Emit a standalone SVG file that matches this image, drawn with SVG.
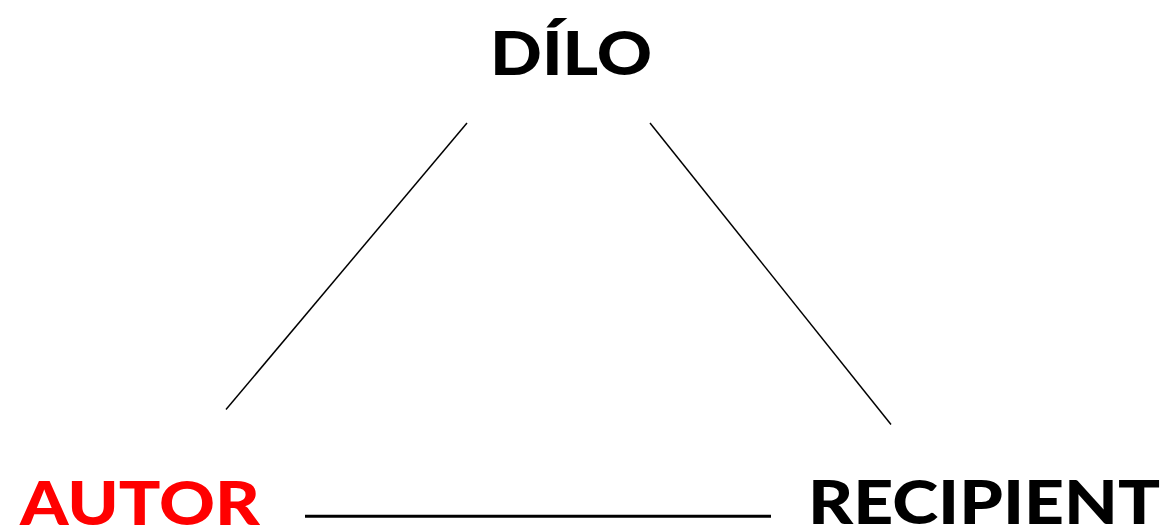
<svg xmlns="http://www.w3.org/2000/svg" width="1171" height="530" viewBox="0 0 1171 530">
<style>
.lbl{font-family:Lato,"Open Sans","Liberation Sans",sans-serif;font-weight:900;font-size:61px}
.blk{fill:#000}
.red{fill:#ff0000}
.ln{stroke:#000;fill:none}
</style>
<rect width="1171" height="530" fill="#fff"/>
<g id="connectors">
<line class="ln" x1="467" y1="123" x2="226" y2="409.5" stroke-width="1.5"/>
<line class="ln" x1="650" y1="123" x2="891" y2="424.5" stroke-width="1.5"/>
<line class="ln" x1="305" y1="516.2" x2="771" y2="516.2" stroke-width="3"/>
</g>
<g id="node-dilo"><text class="lbl blk" x="490" y="75" textLength="162" lengthAdjust="spacingAndGlyphs">DÍLO</text></g>
<g id="node-autor"><text class="lbl red" x="20" y="525" textLength="240" lengthAdjust="spacingAndGlyphs">AUTOR</text></g>
<g id="node-recipient"><text class="lbl blk" x="808" y="524" textLength="352" lengthAdjust="spacingAndGlyphs">RECIPIENT</text></g>
</svg>
